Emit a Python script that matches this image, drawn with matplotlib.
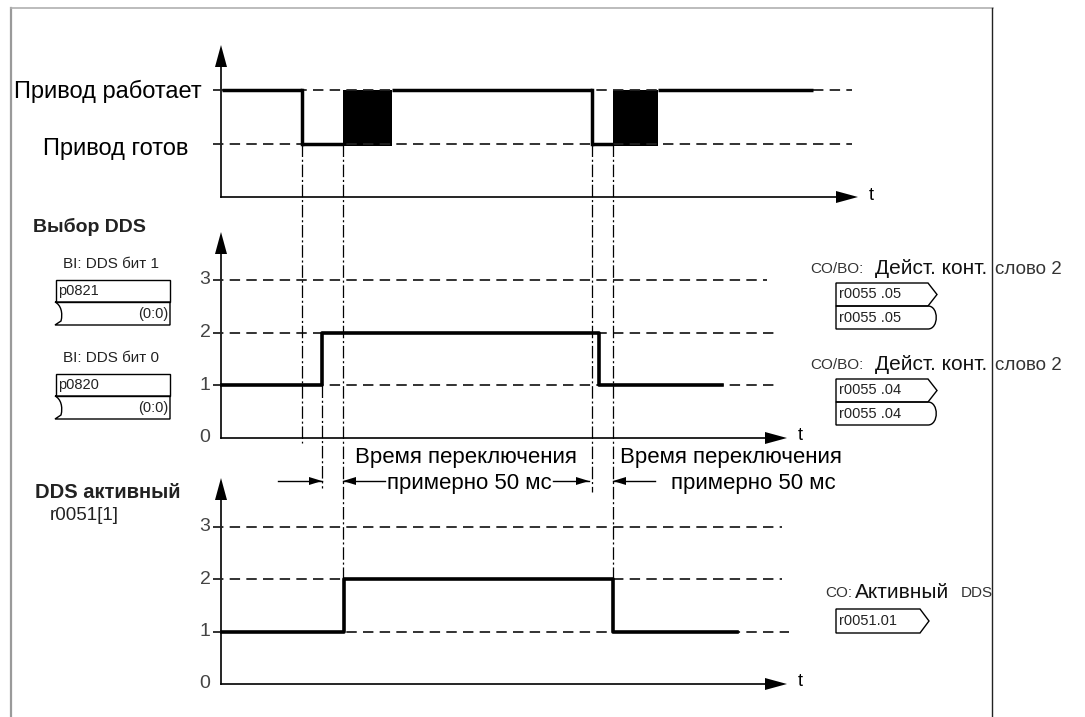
import matplotlib
matplotlib.use('Agg')
import matplotlib.pyplot as plt
from matplotlib.patches import Polygon, Rectangle, PathPatch
from matplotlib.path import Path

plt.rcParams['font.family'] = ['Liberation Sans', 'DejaVu Sans']
plt.rcParams['lines.scale_dashes'] = False

# --- data (time in diagram units from the y axis) ---
# drive state: 2 = running, 1 = ready, 'sw' = switching (black block)
drive_t = [0, 80, 121, 170, 370, 391, 436, 591]
drive_state = [2, 1, 'sw', 2, 1, 'sw', 2]
drive_labels = ['Привод готов', 'Привод работает']

# DDS selection (BI p0820/p0821) and active DDS r0051
sel_t = [0, 100, 377, 500]
sel_val = [1, 2, 1]
act_t = [0, 122, 391, 515]
act_val = [1, 2, 1]
levels = [0, 1, 2, 3]

# switching time markers
switch_marks = [80, 100, 121, 370, 391]
switch_text = ['Время переключения', 'примерно 50 мс']

# --- layout ---
X0 = 222
panels = {'top': (197, 53.5), 'mid': (438, 52.7), 'bot': (684, 52.5)}


def px(t):
    return X0 + t


def py(level, p):
    base, step = panels[p]
    return base - level * step


fig = plt.figure(figsize=(10.85, 7.17), dpi=100)
ax = fig.add_axes([0, 0, 1, 1])
ax.set_xlim(0, 1085)
ax.set_ylim(717, 0)
ax.axis('off')

# frame of the page
ax.plot([11, 11], [8, 717], color='#9a9a9a', lw=1.6)
ax.plot([11, 993], [8, 8], color='#b0b0b0', lw=1.2)
ax.plot([992, 992], [8, 717], color='#222222', lw=1.0)


def head(x, y, d, L=20, W=6.5):
    if d == 'up':
        pts = [(x, y), (x - W, y + L), (x + W, y + L)]
    elif d == 'right':
        pts = [(x, y), (x - L, y - W), (x - L, y + W)]
    else:
        pts = [(x, y), (x + L, y - W), (x + L, y + W)]
    ax.add_patch(Polygon(pts, closed=True, color='black', lw=0))


def axes_frame(p, top_y, x_end, lvls, dash_ends):
    base, step = panels[p]
    ax.plot([X0 - 1, X0 - 1], [base, top_y + 15], color='black', lw=1.2)
    head(X0 - 1, top_y, 'up', L=22, W=6)
    ax.plot([X0 - 1, px(x_end) - 15], [base, base], color='black', lw=1.2)
    head(px(x_end), base, 'right', L=22, W=6)
    ax.text(px(x_end) + 13, base - 2, 't', fontsize=13, ha='center', va='center')
    for lv, e in zip(lvls, dash_ends):
        ax.plot([X0 - 9, px(e)], [py(lv, p)] * 2, color='#222222', lw=1.3,
                ls=(0, (7.5, 4.5)))


# top panel
axes_frame('top', 45, 636, [1, 2], [630, 630])
ax.text(108, py(2, 'top') + 1, drive_labels[1], fontsize=17, ha='center', va='center')
ax.text(116, py(1, 'top') + 5, drive_labels[0], fontsize=17, ha='center', va='center')
for i, st in enumerate(drive_state):
    a, b = drive_t[i], drive_t[i + 1]
    if st == 'sw':
        ax.add_patch(Rectangle((px(a), py(2, 'top')), b - a, py(1, 'top') - py(2, 'top') + 2,
                               color='black', lw=0))
    else:
        ax.plot([px(a), px(b)], [py(st, 'top')] * 2, color='black', lw=2.5,
                solid_capstyle='butt')
        if i > 0 and drive_state[i - 1] != 'sw' and drive_state[i - 1] != st:
            ax.plot([px(a), px(a)], [py(drive_state[i - 1], 'top'), py(st, 'top')],
                    color='black', lw=2.5)

# middle and bottom panels
axes_frame('mid', 232, 565, [1, 2, 3], [556, 556, 545])
axes_frame('bot', 478, 565, [1, 2, 3], [567, 560, 560])
for p in ('mid', 'bot'):
    for lv in levels:
        ax.text(205, py(lv, p), str(lv), fontsize=14, ha='center', va='center', color='#444444')

ax.plot([px(t) for t in sel_t], [py(v, 'mid') for v in sel_val + sel_val[-1:]],
        drawstyle='steps-post', color='black', lw=2.6)
ax.plot([px(t) for t in act_t], [py(v, 'bot') for v in act_val + act_val[-1:]],
        drawstyle='steps-post', color='black', lw=2.6)

# dash-dot marker lines
mark_spans = [(py(1, 'top'), 443), (py(1, 'mid'), 488), (py(1, 'top'), py(2, 'bot')),
              (py(1, 'top'), 492), (py(1, 'top'), py(2, 'bot'))]
for t, (y0, y1) in zip(switch_marks, mark_spans):
    ax.plot([px(t), px(t)], [y0, y1], color='black', lw=0.9, ls=(0, (9, 2, 1.5, 2)))

# dimension arrows
ya = 481
for xs, xe in [(278, px(100)), (385, px(121)), (553, px(367)), (655, px(391))]:
    ax.plot([xs, xe], [ya, ya], color='black', lw=1.0)
    head(xe, ya, 'right' if xe > xs else 'left', L=13, W=4)
ax.text(466, 457, switch_text[0], fontsize=16, ha='center', va='center')
ax.text(469, 484, switch_text[1], fontsize=16, ha='center', va='center')
ax.text(731, 457, switch_text[0], fontsize=16, ha='center', va='center')
ax.text(753, 484, switch_text[1], fontsize=16, ha='center', va='center')

# left side labels
ax.text(33, 227, 'Выбор DDS', fontsize=14, fontweight='bold', ha='left', va='center',
        color='#222222')
ax.text(35, 492, 'DDS активный', fontsize=14.5, fontweight='bold', ha='left', va='center',
        color='#222222')
ax.text(50, 515, 'r0051[1]', fontsize=13.5, ha='left', va='center', color='#222222')


def bi_box(y, name, label):
    x0, x1 = 56, 170
    ax.text(63, y - 16, label, fontsize=11, ha='left', va='center', color='#222222')
    ax.add_patch(Rectangle((x0, y), x1 - x0, 22, fill=False, ec='black', lw=1.0))
    ax.text(x0 + 2, y + 11, name, fontsize=10.5, ha='left', va='center', color='#222222')
    verts = [(x1, y + 22), (x0 - 1, y + 22), (x0 + 5, y + 25), (x0 + 7, y + 33),
             (x0 + 5, y + 41), (x0 - 1, y + 45), (x1, y + 45), (x1, y + 22)]
    codes = [Path.MOVETO, Path.LINETO, Path.CURVE4, Path.CURVE4, Path.CURVE4,
             Path.LINETO, Path.LINETO, Path.LINETO]
    ax.add_patch(PathPatch(Path(verts, codes), fill=False, ec='black', lw=1.0))
    ax.text(x1 - 2, y + 34, '(0:0)', fontsize=10.5, ha='right', va='center', color='#222222')


bi_box(280, 'p0821', 'BI: DDS бит 1')
bi_box(374, 'p0820', 'BI: DDS бит 0')


def co_out(x0, y, name, w=92, h=23):
    x1 = x0 + w
    ax.add_patch(Polygon([(x0, y), (x1, y), (x1 + 9, y + h / 2), (x1, y + h), (x0, y + h)],
                         closed=True, fill=False, ec='black', lw=1.0))
    ax.text(x0 + 3, y + h / 2, name, fontsize=10.5, ha='left', va='center', color='#222222')


def co_round(x0, y, name, w=92, h=23):
    x1 = x0 + w
    verts = [(x0, y), (x1, y), (x1 + 11, y), (x1 + 11, y + h), (x1, y + h), (x0, y + h), (x0, y)]
    codes = [Path.MOVETO, Path.LINETO, Path.CURVE4, Path.CURVE4, Path.CURVE4,
             Path.LINETO, Path.CLOSEPOLY]
    ax.add_patch(PathPatch(Path(verts, codes), fill=False, ec='black', lw=1.0))
    ax.text(x0 + 3, y + h / 2, name, fontsize=10.5, ha='left', va='center', color='#222222')


for yt, yb, nm in [(269, 283, 'r0055 .05'), (365, 379, 'r0055 .04')]:
    ax.text(810, yt, 'CO/BO:', fontsize=11, ha='left', va='center', color='#333333')
    ax.text(875, yt, 'Дейст. конт.', fontsize=15, ha='left', va='center', color='#111111')
    ax.text(995, yt, 'слово 2', fontsize=13.5, ha='left', va='center', color='#333333')
    co_out(836, yb, nm)
    co_round(836, yb + 23, nm)

ax.text(825, 593, 'CO:', fontsize=11, ha='left', va='center', color='#333333')
ax.text(855, 593, 'Активный', fontsize=15, ha='left', va='center', color='#111111')
ax.text(961, 593, 'DDS', fontsize=11, ha='left', va='center', color='#333333')
co_out(836, 609, 'r0051.01', w=84, h=24)

fig.savefig('out.png', dpi=100)
